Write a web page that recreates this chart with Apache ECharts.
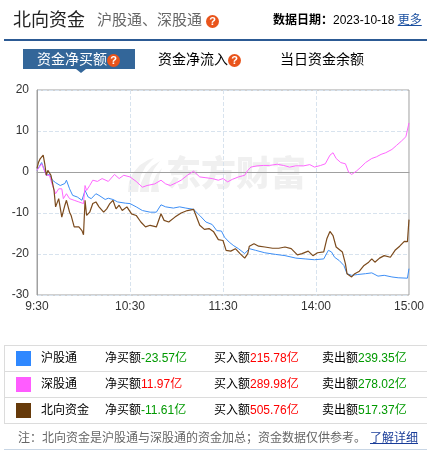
<!DOCTYPE html>
<html><head><meta charset="utf-8">
<script src="https://cdn.jsdelivr.net/npm/echarts/dist/echarts.min.js"></script>
<style>
body{margin:0;width:427px;height:454px;overflow:hidden;background:#fff;font-family:Arial,"Liberation Sans","Noto Sans CJK SC",sans-serif;position:relative}
#chart{position:absolute;left:0;top:0;width:427px;height:454px}
.t{position:absolute;white-space:nowrap}
.q{display:inline-block;width:13px;height:13px;border-radius:50%;background:#e9541b;color:#fff;font-size:11px;font-weight:bold;line-height:13px;text-align:center;vertical-align:middle;font-family:Arial,"Liberation Sans",sans-serif}
.row{position:absolute;left:4px;width:440px;height:26px;border-left:1px solid #dcdcdc;border-top:1px solid #dcdcdc;box-sizing:border-box}
.sq{position:absolute;left:11px;top:5px;width:15px;height:15px}
.c{position:absolute;top:0;line-height:25px;font-size:12px;color:#000;white-space:nowrap}
.g{color:#090}.r{color:#f00}
</style></head>
<body>
<div id="chart"></div>
<div class="t" style="left:13px;top:8px;font-size:18px;line-height:24px;color:#222">北向资金</div>
<div class="t" style="left:97px;top:9px;font-size:15px;line-height:22px;color:#666">沪股通、深股通 <span class="q">?</span></div>
<div class="t" style="left:273px;top:10px;font-size:12px;line-height:20px;color:#000"><b>数据日期：</b>2023-10-18 <span style="color:#1a4fa0;text-decoration:underline">更多</span></div>
<div class="t" style="left:4px;top:39px;width:423px;height:2px;background:#2c5a94"></div>
<div class="t" style="left:23px;top:49px;width:112px;height:20px;background:#336699"></div>
<div class="t" style="left:76px;top:69px;width:0;height:0;border-left:5px solid transparent;border-right:5px solid transparent;border-top:4px solid #336699"></div>
<div class="t" style="left:37px;top:49px;font-size:14px;line-height:20px;color:#fff">资金净买额<span class="q">?</span></div>
<div class="t" style="left:158px;top:49px;font-size:14px;line-height:20px;color:#000">资金净流入<span class="q">?</span></div>
<div class="t" style="left:280px;top:49px;font-size:14px;line-height:20px;color:#000">当日资金余额</div>

<div class="row" style="top:345px"><div class="sq" style="background:#2f88ff"></div><div class="c" style="left:36px">沪股通</div><div class="c" style="left:100px">净买额<span class="g">-23.57亿</span></div><div class="c" style="left:209px">买入额<span class="r">215.78亿</span></div><div class="c" style="left:317px">卖出额<span class="g">239.35亿</span></div></div>
<div class="row" style="top:371px"><div class="sq" style="background:#ff5cff"></div><div class="c" style="left:36px">深股通</div><div class="c" style="left:100px">净买额<span class="r">11.97亿</span></div><div class="c" style="left:209px">买入额<span class="r">289.98亿</span></div><div class="c" style="left:317px">卖出额<span class="g">278.02亿</span></div></div>
<div class="row" style="top:397px;height:27px;border-bottom:1px solid #dcdcdc"><div class="sq" style="background:#663a0a"></div><div class="c" style="left:36px">北向资金</div><div class="c" style="left:100px">净买额<span class="g">-11.61亿</span></div><div class="c" style="left:209px">买入额<span class="r">505.76亿</span></div><div class="c" style="left:317px">卖出额<span class="g">517.37亿</span></div></div>
<div class="t" style="left:18px;top:428px;font-size:12px;line-height:20px;color:#666">注：北向资金是沪股通与深股通的资金加总；资金数据仅供参考。</div>
<div class="t" style="left:370px;top:428px;font-size:12px;line-height:20px;color:#1a3d99;text-decoration:underline">了解详细</div>
<div class="t" style="left:4px;top:449px;width:423px;height:1px;background:#c8d6e5"></div>

<script>
// time categories: 9:30-11:30, 13:01-15:00 (241 minutes)
const times = [];
for (let i = 0; i <= 240; i++) {
  const m = i <= 120 ? 570 + i : 780 + (i - 120);
  times.push(Math.floor(m / 60) + ':' + String(m % 60).padStart(2, '0'));
}
const yTicks = [-30, -20, -10, 0, 10, 20];
const seriesNames = ['沪股通', '深股通', '北向资金'];

// [minute index, value 亿元]
const hgt = [[0,0.4],[3,2.3],[6,-0.8],[8,-0.6],[10,-2.0],[12,-2.6],[15,-3.3],[16,-3.7],[18,-2.8],[19,-2.0],[21,-4.1],[23,-5.7],[26,-6.1],[29,-6.9],[30,-7.2],[31,-4.5],[33,-6.1],[35,-6.5],[38,-5.3],[40,-5.7],[44,-6.7],[46,-6.4],[49,-6.7],[52,-7.3],[57,-7.6],[60,-7.7],[64,-8.5],[68,-9.4],[73,-9.8],[77,-9.8],[80,-8.0],[83,-8.5],[88,-8.8],[92,-8.5],[96,-8.8],[101,-9.1],[105,-10.6],[109,-12.2],[113,-12.8],[116,-14.3],[119,-14.4],[121,-15.9],[124,-17.1],[127,-18.0],[130,-18.7],[134,-19.9],[137,-18.7],[141,-19.1],[147,-19.7],[154,-20.1],[160,-20.4],[167,-21.0],[173,-21.2],[179,-21.4],[185,-21.2],[188,-19.1],[190,-19.5],[192,-20.8],[195,-21.6],[198,-22.8],[200,-24.8],[203,-25.2],[207,-25.0],[212,-24.8],[216,-24.6],[220,-25.4],[224,-25.2],[229,-25.6],[233,-25.8],[239,-25.9],[240,-23.57]];
const sgt = [[0,0.4],[3,2.0],[6,-0.8],[8,-0.8],[10,-3.3],[12,-5.3],[14,-4.1],[16,-4.1],[17,-6.5],[19,-5.3],[21,-6.5],[24,-6.9],[27,-7.3],[30,-7.7],[31,-3.3],[32,-4.5],[34,-3.3],[36,-2.0],[39,-2.3],[42,-1.6],[46,-2.3],[50,-0.6],[53,-1.6],[56,-0.8],[60,-1.2],[64,-2.3],[68,-3.7],[71,-3.3],[76,-2.9],[80,-2.0],[83,-2.9],[86,-3.3],[90,-2.6],[93,-2.0],[97,-0.8],[101,0.2],[105,-1.2],[109,-1.4],[113,-1.6],[117,-2.0],[120,-1.6],[123,-2.4],[126,-1.8],[130,-1.2],[134,-0.8],[136,0.4],[138,1.2],[142,1.5],[146,1.6],[150,1.6],[155,1.9],[159,1.6],[163,1.2],[167,1.5],[172,1.5],[176,1.8],[179,1.2],[183,1.6],[186,2.0],[189,4.1],[191,4.7],[193,3.3],[196,2.3],[199,2.0],[201,0.0],[203,-0.6],[206,0.2],[209,1.2],[212,2.3],[216,3.3],[219,3.7],[222,4.3],[225,4.7],[229,5.5],[232,6.5],[235,7.5],[238,8.6],[239,8.8],[240,11.97]];
const bx = [[0,0.9],[1,2.4],[2,3.2],[4,4.1],[5,2.0],[6,-0.8],[7,0.4],[9,-0.8],[11,-4.5],[12,-8.5],[14,-6.5],[15,-6.9],[16,-11.0],[18,-8.1],[19,-6.9],[21,-9.8],[22,-10.6],[24,-13.4],[27,-13.4],[29,-14.3],[30,-15.3],[31,-6.9],[32,-10.6],[34,-9.8],[36,-7.7],[38,-7.3],[40,-8.5],[43,-9.8],[45,-9.0],[47,-7.7],[49,-6.9],[51,-9.0],[53,-8.1],[55,-9.4],[58,-8.5],[61,-10.2],[64,-10.6],[67,-12.2],[70,-13.4],[73,-13.0],[77,-13.4],[80,-10.2],[82,-11.8],[85,-12.2],[89,-11.0],[93,-10.0],[97,-9.4],[101,-9.1],[105,-13.0],[108,-14.0],[111,-13.8],[114,-14.6],[117,-16.5],[120,-16.7],[122,-19.1],[125,-19.3],[128,-18.7],[131,-19.9],[134,-21.0],[136,-19.9],[137,-18.1],[140,-17.5],[143,-18.1],[147,-18.3],[152,-18.6],[156,-18.6],[160,-18.3],[164,-18.7],[168,-20.2],[171,-19.9],[175,-19.3],[178,-20.4],[181,-19.7],[185,-19.5],[187,-16.3],[189,-14.5],[191,-15.5],[193,-18.3],[197,-19.5],[199,-22.4],[200,-24.8],[203,-25.6],[205,-24.8],[208,-24.2],[211,-22.8],[214,-22.0],[216,-21.2],[218,-22.0],[221,-21.0],[224,-20.4],[228,-20.8],[231,-19.1],[234,-18.1],[237,-16.9],[239,-17.0],[240,-11.61]];

const toCat = arr => arr.map(p => [times[p[0]], p[1]]);
const wm = '#f0f0f0';
const chart = echarts.init(document.getElementById('chart'));
chart.setOption({
  animation: false,
  grid: {left: 37, right: 18, top: 90, bottom: 159, show: true, borderColor: '#a0a0a0', borderWidth: 1},
  graphic: [
    {type: 'text', left: 166, top: 155, z: 0, style: {text: '东方财富', font: '900 35px "Noto Sans CJK SC", sans-serif', fill: wm}},
    {type: 'group', x: 128, y: 158, z: 0, children: [
      {type: 'polygon', shape: {points: [[0,34],[1,24],[5,15],[12,7],[20,2],[26,0],[18,8],[13,17],[11,26],[10,34]]}, style: {fill: wm}},
      {type: 'polygon', shape: {points: [[12,34],[13,25],[17,16],[24,8],[32,3],[26,11],[22,20],[21,27],[21,34]]}, style: {fill: wm}},
      {type: 'polygon', shape: {points: [[23,34],[24,26],[28,17],[34,10],[31,18],[30,26],[31,34]]}, style: {fill: wm}}
    ]}
  ],
  xAxis: {
    type: 'category', data: times, boundaryGap: false,
    axisLine: {lineStyle: {color: '#a0a0a0'}},
    axisTick: {show: false},
    axisLabel: {interval: (i) => i % 60 === 0, color: '#333', fontSize: 12, margin: 6, fontFamily: 'Arial, "Liberation Sans", sans-serif'},
    splitLine: {show: true, interval: (i) => i % 60 === 0 && i !== 0 && i !== 240, lineStyle: {type: 'dashed', color: '#d8e3ee'}}
  },
  yAxis: {
    type: 'value', min: yTicks[0], max: yTicks[yTicks.length - 1], interval: 10,
    axisLine: {show: true, lineStyle: {color: '#a0a0a0'}},
    axisTick: {show: false},
    axisLabel: {color: '#333', fontSize: 12, margin: 8, fontFamily: 'Arial, "Liberation Sans", sans-serif'},
    splitLine: {lineStyle: {type: 'dashed', color: '#d8e3ee'}}
  },
  series: [
    {name: seriesNames[0], type: 'line', data: toCat(hgt), showSymbol: false, lineStyle: {width: 1, color: '#3d8ef5'}, itemStyle: {color: '#3d8ef5'}},
    {name: seriesNames[1], type: 'line', data: toCat(sgt), showSymbol: false, lineStyle: {width: 1, color: '#ff66ff'}, itemStyle: {color: '#ff66ff'}},
    {name: seriesNames[2], type: 'line', data: toCat(bx), showSymbol: false, lineStyle: {width: 1.2, color: '#7b4a1c'}, itemStyle: {color: '#7b4a1c'}}
  ]
});
</script>
</body></html>
